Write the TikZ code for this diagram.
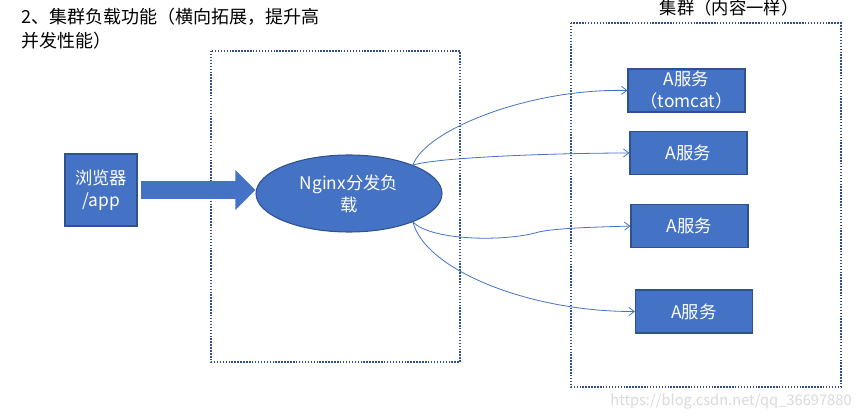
\documentclass[tikz,border=0pt]{standalone}
\usepackage{fontspec}
\setmainfont{Noto Sans CJK SC}
\usetikzlibrary{shapes.geometric,arrows.meta}
\definecolor{boxblue}{HTML}{4472C4}
\definecolor{edgeblue}{HTML}{2F528F}
\begin{document}
\begin{tikzpicture}[x=0.75pt,y=-0.75pt,
  font=\fontsize{13}{16.5}\selectfont,
  bluebox/.style={draw=edgeblue,fill=boxblue,text=white,align=center,inner sep=0pt,line width=0.8pt},
  srvbox/.style={bluebox,minimum width=87.75pt,minimum height=32.25pt},
  dotbox/.style={draw=edgeblue,line width=1.1pt,dash pattern=on 1.1pt off 1.1pt},
  link/.style={boxblue,line width=0.6pt,-{Straight Barb[length=4pt,width=6pt]}}]
\useasboundingbox (0,0) rectangle (862,420);
% frames
\draw[dotbox] (211,51) rectangle (460,362);
\draw[dotbox] (571,23) rectangle (841,387);
% texts
\node[anchor=north west,inner sep=0pt,align=left,font=\fontsize{13.5}{18}\selectfont] (title) at (21,8) {2、集群负载功能（横向拓展，提升高\\并发性能）};
\node[inner sep=0pt] (clustertitle) at (729,8) {集群（内容一样）};
\node[text=gray!30,font=\fontsize{11}{13}\selectfont] (mark) at (731,401) {https://blog.csdn.net/qq\_36697880};
% nodes
\node[bluebox,minimum width=54pt,minimum height=54pt] (browser) at (101,190) {浏览器\\/app};
\node[bluebox,ellipse,minimum width=139.5pt,minimum height=57.75pt] (nginx) at (349,193.5) {Nginx分发负\\载};
\node[srvbox] (srv1) at (686.5,90.5) {A服务\\（tomcat）};
\node[srvbox] (srv2) at (688.5,153) {A服务};
\node[srvbox] (srv3) at (689.5,226) {A服务};
\node[srvbox] (srv4) at (694,311.5) {A服务};
% big arrow
\draw[boxblue,line width=13.5pt,-{Triangle[length=15pt,width=29pt]}] ([xshift=2.25pt]browser.east) -- (browser.east -| nginx.west);
% links
\draw[link] (nginx.24) .. controls (425,130) and (530,88) .. (srv1.west);
\draw[link] (nginx.24) .. controls (440,157) and (560,153) .. (srv2.west);
\draw[link] (nginx.-24) .. controls (430,240) and (500,242) .. (535,233) .. controls (550,228) and (600,227) .. (srv3.west);
\draw[link] (nginx.-24) .. controls (425,270) and (530,312) .. (srv4.west);
\end{tikzpicture}
\end{document}
